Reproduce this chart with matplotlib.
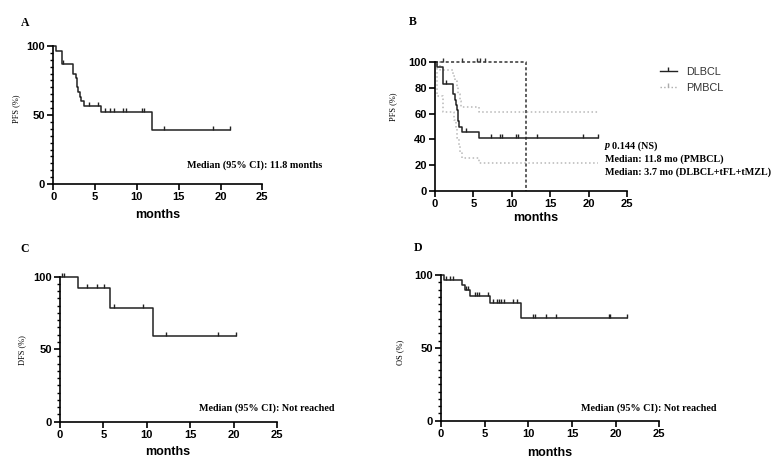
"""
Kaplan-Meier panels A-D (PFS, PFS by subtype, DFS, OS)
"""

import numpy as np
import matplotlib.pyplot as plt
from matplotlib.lines import Line2D
from matplotlib.ticker import MultipleLocator

plt.rcParams['font.family'] = ['Liberation Sans', 'DejaVu Sans']

# ---- data (months, % surviving) ----
# A: PFS, whole cohort
a_times = [0, 0.3, 1.0, 2.4, 2.7, 2.85, 3.0, 3.15, 3.35, 3.7, 5.7, 11.8]
a_surv = [100, 96.7, 86.7, 80, 76.7, 70.5, 66.7, 63.3, 60, 56.7, 52, 39]
a_censor = [1.2, 4.3, 5.4, 6.2, 6.8, 7.3, 8.3, 8.7, 10.6, 10.8, 13.2, 19.1, 21.1]
a_end = 21.1

# B: PFS by subtype
dlbcl_times = [0, 0.2, 1.0, 2.4, 2.6, 2.75, 2.85, 2.95, 3.05, 3.15, 3.5, 5.7]
dlbcl_surv = [100, 95.8, 83.3, 75, 70.8, 66.7, 62.5, 58.3, 54.2, 50, 45.8, 41.3]
dlbcl_censor = [1.4, 4.0, 7.3, 8.4, 8.7, 10.5, 10.8, 13.3, 19.2, 21.2]
dlbcl_end = 21.2
dlbcl_hi_times = [0, 0.65, 2.4, 2.6, 2.8, 3.0, 3.2, 3.4, 5.7]
dlbcl_hi = [100, 93.5, 89, 85, 81, 75, 70, 65, 61]
dlbcl_lo_times = [0, 0.2, 1.0, 2.5, 2.7, 2.9, 3.1, 3.3, 3.5, 5.7]
dlbcl_lo = [100, 74, 61.5, 55, 48, 41, 35, 30, 25.8, 21.5]
pmbcl_times = [0, 11.8]
pmbcl_surv = [100, 0]
pmbcl_censor = [1.1, 3.5, 5.4, 5.8, 6.5]
pmbcl_end = 11.8

# C: DFS
c_times = [0, 2.1, 5.7, 10.7]
c_surv = [100, 92.3, 78.6, 58.9]
c_censor = [0.2, 0.45, 3.1, 4.3, 5.1, 6.2, 9.6, 12.2, 18.2, 20.2]
c_end = 20.2

# D: OS
d_times = [0, 0.3, 2.4, 2.7, 3.3, 5.6, 9.2]
d_surv = [100, 96.6, 93.1, 89.7, 85.9, 80.5, 70.4]
d_censor = [0.6, 1.0, 1.35, 2.9, 3.1, 3.9, 4.15, 4.35, 5.4, 6.0, 6.4, 6.6,
            6.9, 7.25, 8.2, 8.7, 10.5, 10.8, 12.0, 13.2, 19.2, 19.4, 21.3]
d_end = 21.3

W, H = 775, 471
fig = plt.figure(figsize=(W / 100, H / 100), dpi=100, facecolor='white')


def fx(px):
    return px / W


def fy(py):
    return 1 - py / H


def panel(left, top, right, bottom):
    return fig.add_axes([fx(left), fy(bottom), fx(right) - fx(left), fy(top) - fy(bottom)])


def value_at(times, surv, t):
    idx = np.searchsorted(times, t, side='right') - 1
    return np.asarray(surv)[idx]


def km(ax, times, surv, end, censor=None, color='#222222', ls='-', lw=1.1):
    t = list(times) + [end]
    s = list(surv) + [surv[-1]]
    ax.step(t, s, where='post', color=color, ls=ls, lw=lw, clip_on=False)
    if censor:
        ax.plot(censor, value_at(times, surv, censor), ls='none', marker=2,
                ms=3, mew=1.0, color=color, clip_on=False)


def style(ax, major, minor=None):
    ax.set_xlim(0, 25)
    ax.set_ylim(0, 100)
    ax.set_facecolor('none')
    for s in ['top', 'right']:
        ax.spines[s].set_visible(False)
    for s in ['left', 'bottom']:
        ax.spines[s].set_linewidth(1.2)
    ax.xaxis.set_major_locator(MultipleLocator(5))
    ax.yaxis.set_major_locator(MultipleLocator(major))
    if minor:
        ax.yaxis.set_minor_locator(MultipleLocator(minor))
    ax.tick_params(which='major', length=4, width=1.2, pad=2, labelsize=8)
    ax.tick_params(which='minor', length=2.5, width=1)
    for lab in ax.get_xticklabels() + ax.get_yticklabels():
        lab.set_fontweight('bold')


serif = ['Liberation Serif', 'DejaVu Serif']

# A
ax1 = panel(53.3, 46, 262.3, 184)
km(ax1, a_times, a_surv, a_end, a_censor)
style(ax1, 50, 5)

# B
ax2 = panel(435, 62, 627.3, 191)
km(ax2, dlbcl_hi_times, dlbcl_hi, dlbcl_end, color='#b8b8b8', ls=':')
km(ax2, dlbcl_lo_times, dlbcl_lo, dlbcl_end, color='#b8b8b8', ls=':')
km(ax2, pmbcl_times, pmbcl_surv, pmbcl_end, pmbcl_censor, color='#333333', ls=(0, (2, 1.5)))
km(ax2, dlbcl_times, dlbcl_surv, dlbcl_end, dlbcl_censor)
style(ax2, 20)

# C
ax3 = panel(60, 276.7, 277.3, 421.7)
km(ax3, c_times, c_surv, c_end, c_censor)
style(ax3, 50, 5)

# D
ax4 = panel(441, 275, 659.3, 420.7)
km(ax4, d_times, d_surv, d_end, d_censor)
style(ax4, 50, 5)

# panel letters
for lab, x, y in [('A', 25, 23), ('B', 413, 22), ('C', 25, 249), ('D', 418, 248)]:
    fig.text(fx(x), fy(y), lab, family=serif, fontweight='bold', fontsize=8.5,
             ha='center', va='center')

# axis titles
for x, y in [(158, 215), (536, 218), (168, 452), (550, 453)]:
    fig.text(fx(x), fy(y), 'months', fontweight='bold', fontsize=9,
             ha='center', va='center')
for lab, x, y in [('PFS (%)', 16, 109), ('PFS (%)', 393, 107),
                  ('DFS (%)', 22, 350), ('OS (%)', 400, 352)]:
    fig.text(fx(x), fy(y), lab, family=serif, fontsize=6, rotation=90,
             ha='center', va='center')

# annotations
note = dict(family=serif, fontweight='bold', fontsize=7.3, va='center')
fig.text(fx(187), fy(165), 'Median (95% CI): 11.8 months', **note)
fig.text(fx(199), fy(408), 'Median (95% CI): Not reached', **note)
fig.text(fx(581), fy(408), 'Median (95% CI): Not reached', **note)
fig.text(fx(605), fy(146), 'p', style='italic', **note)
fig.text(fx(612), fy(146), '0.144 (NS)', **note)
fig.text(fx(605), fy(159), 'Median: 11.8 mo (PMBCL)', **note)
fig.text(fx(605), fy(172), 'Median: 3.7 mo (DLBCL+tFL+tMZL)', **note)

# legend
handles = [Line2D([], [], color='#222222', lw=1.0, marker=2, ms=3, mew=1.0),
           Line2D([], [], color='#aaaaaa', lw=1.0, ls=':', marker=2, ms=3, mew=1.0)]
fig.legend(handles, ['DLBCL', 'PMBCL'], loc='center left',
           bbox_to_anchor=(fx(650), fy(80)), frameon=False, fontsize=7.8,
           handlelength=1.6, handletextpad=0.8, labelspacing=0.6,
           labelcolor='#333333')

fig.savefig('out.png', dpi=100)
